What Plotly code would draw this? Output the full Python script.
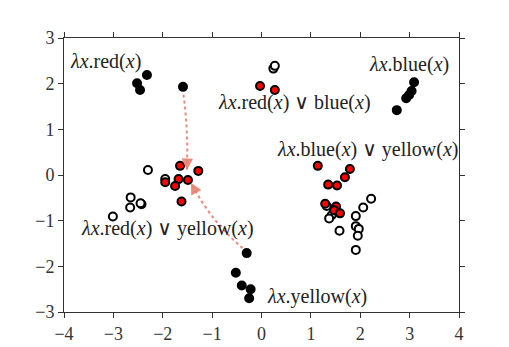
import plotly.graph_objects as go

# solid black points: the single-colour concepts
black_x = [-2.52, -2.32, -2.46, -1.59,
           3.09, 3.04, 2.99, 2.93, 2.74,
           -0.30, -0.52, -0.40, -0.22, -0.25]
black_y = [2.01, 2.19, 1.86, 1.93,
           2.03, 1.84, 1.75, 1.68, 1.42,
           -1.71, -2.14, -2.42, -2.50, -2.70]

# red filled points
red_x = [-0.03, 0.27,
         -1.95, -1.65, -1.28, -1.68, -1.49, -1.75, -1.62,
         1.14, 1.79, 1.69, 1.35, 1.53, 1.29, 1.51, 1.47, 1.59]
red_y = [1.95, 1.86,
         -0.16, 0.20, 0.09, -0.09, -0.11, -0.24, -0.58,
         0.20, 0.13, -0.05, -0.21, -0.23, -0.63, -0.69, -0.77, -0.84]

# open (white) points
open_x = [0.24, 0.27,
          -2.30, -1.95, -2.65, -2.66, -2.43, -2.45, -3.01,
          1.32, 1.42, 1.37, 1.58, 1.91, 2.06, 2.22, 1.91, 1.97, 1.95, 1.91]
open_y = [2.33, 2.39,
          0.11, -0.09, -0.49, -0.71, -0.64, -0.62, -0.91,
          -0.68, -0.88, -0.95, -1.22, -0.90, -0.71, -0.52, -1.12, -1.18, -1.33, -1.64]

# concept labels (left edge, vertical middle)
label_text = ["<i>λx</i>.red(<i>x</i>)",
              "<i>λx</i>.red(<i>x</i>) ∨ blue(<i>x</i>)",
              "<i>λx</i>.blue(<i>x</i>)",
              "<i>λx</i>.blue(<i>x</i>) ∨ yellow(<i>x</i>)",
              "<i>λx</i>.red(<i>x</i>) ∨ yellow(<i>x</i>)",
              "<i>λx</i>.yellow(<i>x</i>)"]
label_x = [-3.92, -0.92, 2.13, 0.27, -3.69, 0.07]
label_y = [2.49, 1.58, 2.43, 0.55, -1.18, -2.65]

# arrows: start, bend control point, tip
arrow_start = [(-1.58, 1.76), (-0.38, -1.60)]
arrow_ctrl = [(-1.48, 0.95), (-1.00, -1.05)]
arrow_tip = [(-1.51, 0.11), (-1.43, -0.17)]

arrow_col = "rgba(232,128,112,0.9)"
serif = "'Liberation Serif', 'Times New Roman', 'DejaVu Serif', serif"

fig = go.Figure()
for xs, ys, fill in [(open_x, open_y, "white"), (red_x, red_y, "#ff0000"), (black_x, black_y, "black")]:
    fig.add_trace(go.Scatter(
        x=xs, y=ys, mode="markers",
        marker=dict(size=8, color=fill, line=dict(color="black", width=2)),
        showlegend=False, hoverinfo="skip"
    ))

for (x0, y0), (cx, cy), (x1, y1) in zip(arrow_start, arrow_ctrl, arrow_tip):
    fig.add_shape(type="path", path=f"M {x0},{y0} Q {cx},{cy} {x1},{y1}",
                  line=dict(color=arrow_col, width=2, dash="3px,3px"), layer="below")
    # arrowhead only, a short segment ending at the tip
    t = 0.93
    hx = (1 - t) ** 2 * x0 + 2 * (1 - t) * t * cx + t ** 2 * x1
    hy = (1 - t) ** 2 * y0 + 2 * (1 - t) * t * cy + t ** 2 * y1
    fig.add_annotation(x=x1, y=y1, ax=hx, ay=hy, xref="x", yref="y", axref="x", ayref="y",
                       text="", showarrow=True, arrowhead=2, arrowsize=1.15, arrowwidth=2,
                       arrowcolor=arrow_col)

for txt, lx, ly in zip(label_text, label_x, label_y):
    fig.add_annotation(x=lx, y=ly, text=txt, showarrow=False, xanchor="left", yanchor="middle",
                       font=dict(family=serif, size=20, color="#222"))

axis_style = dict(showgrid=False, zeroline=False, showline=True, linecolor="#333", linewidth=1,
                  mirror="allticks", ticks="outside", ticklen=5, tickcolor="#333",
                  tickfont=dict(family=serif, size=18, color="#333"))
fig.update_xaxes(range=[-4, 4], tickvals=[-4, -3, -2, -1, 0, 1, 2, 3, 4],
                 ticktext=["−4", "−3", "−2", "−1", "0", "1", "2", "3", "4"], **axis_style)
fig.update_yaxes(range=[-3, 3], tickvals=[-3, -2, -1, 0, 1, 2, 3],
                 ticktext=["−3", "−2", "−1", "0", "1", "2", "3"], **axis_style)
# the page adds an 8px body margin, so the margins are shifted to keep the frame in place
fig.update_layout(width=509, height=347, margin=dict(l=56, r=58, t=30, b=43),
                  plot_bgcolor="white", paper_bgcolor="white")

fig.write_html("out.html")
